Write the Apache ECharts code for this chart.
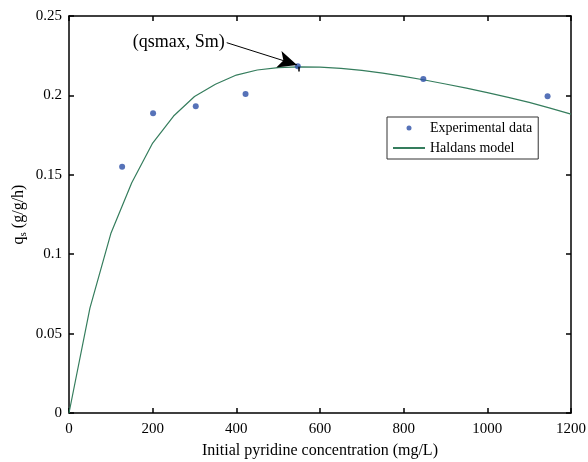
<!DOCTYPE html>
<html>
<head>
<meta charset="utf-8">
<script src="https://cdn.jsdelivr.net/npm/echarts@6/dist/echarts.min.js"></script>
<style>
  html, body { margin: 0; padding: 0; background: #fff; }
  #chart { width: 588px; height: 462px; }
</style>
</head>
<body>
<div id="chart"></div>
<script>
// experimental points
var expX = [127, 201, 303, 422, 547, 847, 1144];
var expY = [0.155, 0.1887, 0.1931, 0.2009, 0.2183, 0.2103, 0.1994];

// Haldane model curve, sampled every 50 mg/L
var modelX = [0, 50, 100, 150, 200, 250, 300, 350, 400, 450, 500, 550, 600,
              650, 700, 750, 800, 850, 900, 950, 1000, 1050, 1100, 1150, 1200];
var modelY = [0, 0.066, 0.113, 0.145, 0.170, 0.187, 0.1993, 0.207, 0.2128, 0.216, 0.2175, 0.218, 0.2178,
              0.2170, 0.2157, 0.2140, 0.2120, 0.2097, 0.2072, 0.2046, 0.2018, 0.1988, 0.1956, 0.1920, 0.1882];

// annotation arrow: from the label to the maximum
var arrowFrom = [377, 0.2332];
var arrowTo = [545, 0.2192];
// little marker stroke under the maximum point
var markTop = [550, 0.2180];
var markBottom = [550, 0.2150];

var serif = 'Liberation Serif';

function pairs(xs, ys) {
    return xs.map(function(x, i) { return [x, ys[i]]; });
}

var chart = echarts.init(document.getElementById('chart'));

var boxAxis = {
    axisLine: {onZero: false, lineStyle: {color: '#000', width: 1.5}},
    axisTick: {inside: true, length: 5, lineStyle: {color: '#000', width: 1.5}},
    splitLine: {show: false}
};

chart.setOption({
    animation: false,
    backgroundColor: '#fff',
    grid: {left: 69, right: 17, top: 16, bottom: 49, outerBoundsMode: 'none'},
    legend: {
        orient: 'vertical',
        left: 387,
        top: 117,
        itemWidth: 32,
        itemHeight: 5,
        itemGap: 6,
        padding: [4, 6, 4, 5],
        borderColor: '#333',
        borderWidth: 1,
        backgroundColor: '#fff',
        textStyle: {fontFamily: serif, fontSize: 14, color: '#000'},
        data: [
            'Experimental data',
            {name: 'Haldans model', itemStyle: {color: 'rgba(0,0,0,0)', borderWidth: 0}}
        ]
    },
    xAxis: [
        Object.assign({
            type: 'value', min: 0, max: 1200, interval: 200,
            axisLabel: {fontFamily: serif, fontSize: 15, color: '#000', margin: 9,
                        formatter: function(v) { return String(v); }},
            name: 'Initial pyridine concentration (mg/L)',
            nameLocation: 'middle',
            nameGap: 30,
            nameMoveOverlap: false,
            nameTextStyle: {fontFamily: serif, fontSize: 16, color: '#000'}
        }, boxAxis),
        Object.assign({
            type: 'value', min: 0, max: 1200, interval: 200, position: 'top',
            axisLabel: {show: false}
        }, boxAxis)
    ],
    yAxis: [
        Object.assign({
            type: 'value', min: 0, max: 0.25, interval: 0.05,
            axisLabel: {fontFamily: serif, fontSize: 15, color: '#000', margin: 7,
                        formatter: function(v) { return String(+v.toFixed(2)); }},
            name: '{a|q}{b|s}{a| (g/g/h)}',
            nameLocation: 'middle',
            nameGap: 40,
            nameMoveOverlap: false,
            nameTextStyle: {
                rich: {
                    a: {fontFamily: serif, fontSize: 16, color: '#000', lineHeight: 20},
                    b: {fontFamily: serif, fontSize: 11, color: '#000', verticalAlign: 'bottom', lineHeight: 14, padding: [6, 0, 0, 0]}
                }
            }
        }, boxAxis),
        Object.assign({
            type: 'value', min: 0, max: 0.25, interval: 0.05, position: 'right',
            axisLabel: {show: false}
        }, boxAxis)
    ],
    series: [
        {
            name: 'Haldans model',
            type: 'line',
            data: pairs(modelX, modelY),
            symbol: 'none',
            lineStyle: {color: '#357d5d', width: 1.2},
            itemStyle: {color: '#357d5d'},
            z: 2,
            markLine: {
                silent: true,
                symbol: 'none',
                symbolSize: 15,
                lineStyle: {color: '#000', width: 1, type: 'solid'},
                itemStyle: {color: '#000'},
                label: {show: false},
                data: [
                    [
                        {coord: arrowFrom, symbol: 'none',
                         label: {show: true, position: 'start', formatter: '(qsmax, Sm)',
                                 fontFamily: serif, fontSize: 18, color: '#000', distance: 2}},
                        {coord: arrowTo, symbol: 'arrow', symbolSize: [13, 19]}
                    ],
                    [
                        {coord: markTop, symbol: 'none', lineStyle: {width: 1.5}},
                        {coord: markBottom, symbol: 'none'}
                    ]
                ]
            }
        },
        {
            name: 'Experimental data',
            type: 'scatter',
            data: pairs(expX, expY),
            symbol: 'circle',
            symbolSize: 6,
            itemStyle: {color: '#2c4fa6'},
            z: 3
        }
    ]
});
</script>
</body>
</html>
